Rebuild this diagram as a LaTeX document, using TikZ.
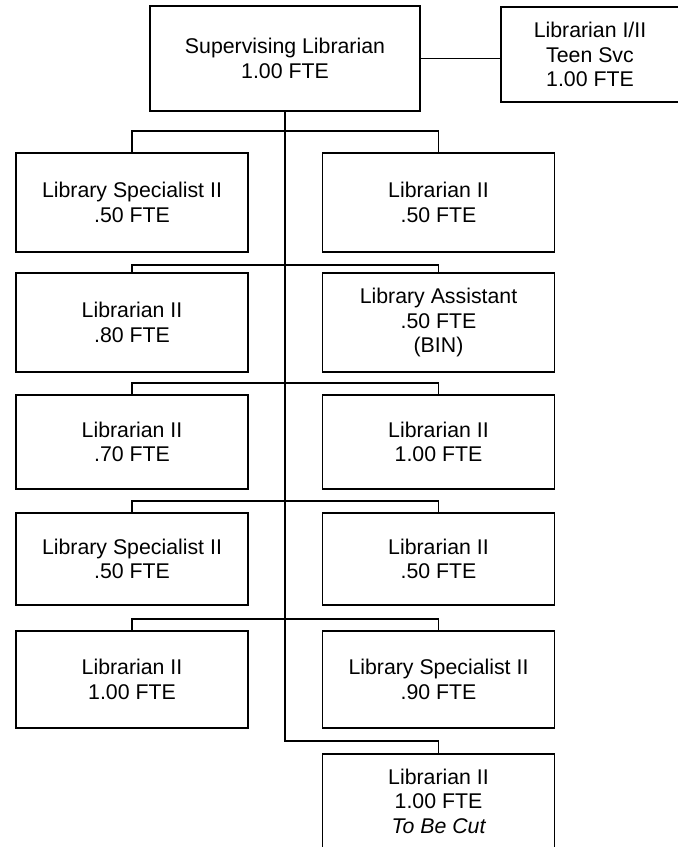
\documentclass[tikz,border=0pt]{standalone}
\usepackage{fontspec}
\setmainfont{Liberation Sans}
\begin{document}
\begin{tikzpicture}[x=1pt,y=-1pt,
  box/.style={draw, line width=1.8pt, minimum width=232pt, minimum height=97pt,
    align=center, font=\fontsize{21.3}{24.5}\selectfont, inner sep=0pt},
  link/.style={line width=1.3pt}]
\clip (0,0) rectangle (678,847);
\fill[white] (0,0) rectangle (678,847);

\node[box, line width=2.8pt, minimum width=270pt, minimum height=105pt] (sup) at (285,58.5) {Supervising Librarian\\1.00 FTE};
\node[box, minimum width=178pt, minimum height=95pt] (teen) at (590,54.5) {Librarian I/II\\Teen Svc\\1.00 FTE};

\node[box, minimum height=99pt] (l1) at (132,202.5) {Library Specialist II\\.50 FTE};
\node[box, minimum height=99pt] (r1) at (438.5,202.5) {Librarian II\\.50 FTE};
\node[box, minimum height=99pt] (l2) at (132,322.5) {Librarian II\\.80 FTE};
\node[box, minimum height=99pt] (r2) at (438.5,322.5) {Library Assistant\\.50 FTE\\(BIN)};
\node[box, minimum height=94pt] (l3) at (132,442) {Librarian II\\.70 FTE};
\node[box, minimum height=94pt] (r3) at (438.5,442) {Librarian II\\1.00 FTE};
\node[box, minimum height=92pt] (l4) at (132,559) {Library Specialist II\\.50 FTE};
\node[box, minimum height=92pt] (r4) at (438.5,559) {Librarian II\\.50 FTE};
\node[box, minimum height=97pt] (l5) at (132,679.5) {Librarian II\\1.00 FTE};
\node[box, minimum height=97pt] (r5) at (438.5,679.5) {Library Specialist II\\.90 FTE};
\node[box, minimum height=94pt] (cut) at (438.5,801) {Librarian II\\1.00 FTE\\\itshape To Be Cut};

\coordinate (b1) at (285,131);
\coordinate (b2) at (285,265);
\coordinate (b3) at (285,383);
\coordinate (b4) at (285,501);
\coordinate (b5) at (285,619);
\coordinate (b6) at (285,741);

\draw[link] (sup.east) -- (sup.east -| teen.west);
\draw[link] (sup.south) -- (b6) -| (cut.north);
\draw[link] (l1.north) |- (b1) -| (r1.north);
\draw[link] (l2.north) |- (b2) -| (r2.north);
\draw[link] (l3.north) |- (b3) -| (r3.north);
\draw[link] (l4.north) |- (b4) -| (r4.north);
\draw[link] (l5.north) |- (b5) -| (r5.north);
\end{tikzpicture}
\end{document}
